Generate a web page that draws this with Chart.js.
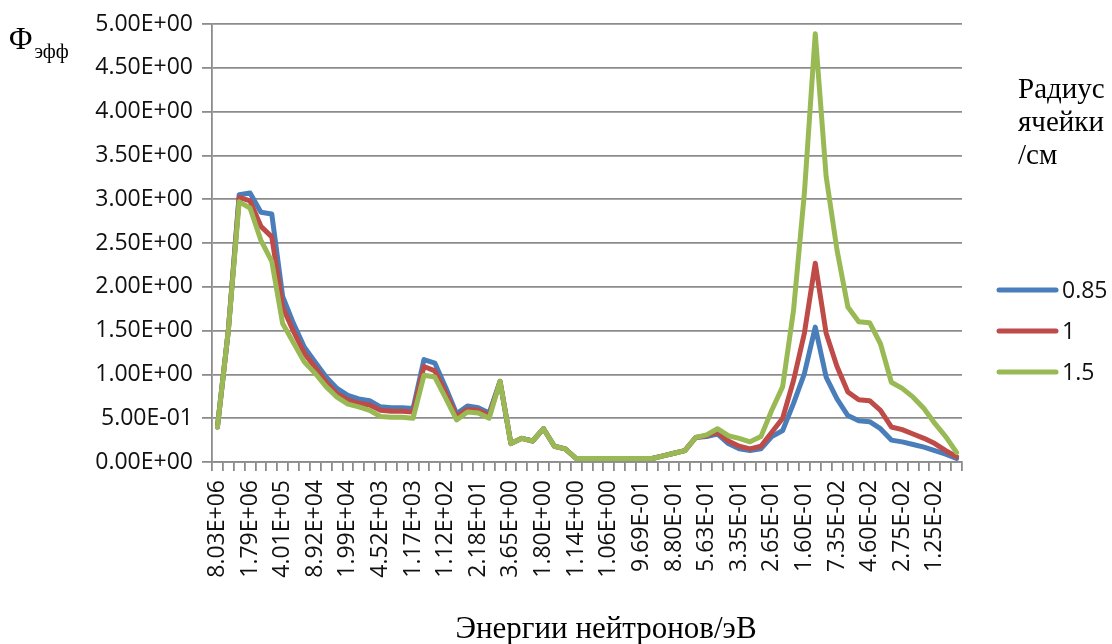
<!DOCTYPE html>
<html lang="ru">
<head>
<meta charset="utf-8">
<title>Φэфф по энергиям нейтронов</title>
<script src="https://cdn.jsdelivr.net/npm/chart.js@4.4.1/dist/chart.umd.min.js"></script>
<style>
  html, body { margin: 0; padding: 0; background: #ffffff; }
  canvas { display: block; }
</style>
</head>
<body>
<canvas id="chart" width="1112" height="644"></canvas>
<script>
// Energy group boundaries shown on the axis (every third group is labelled)
const tickLabels = [
  '8.03E+06', '1.79E+06', '4.01E+05', '8.92E+04', '1.99E+04', '4.52E+03',
  '1.17E+03', '1.12E+02', '2.18E+01', '3.65E+00', '1.80E+00', '1.14E+00',
  '1.06E+00', '9.69E-01', '8.80E-01', '5.63E-01', '3.35E-01', '2.65E-01',
  '1.60E-01', '7.35E-02', '4.60E-02', '2.75E-02', '1.25E-02'
];
const groupCount = 69;
const labelEvery = 3;

// Effective flux per energy group, for three cell radii
const radius085 = [
  0.40, 1.50, 3.05, 3.07, 2.85, 2.83, 1.89, 1.58, 1.31, 1.14,
  0.97, 0.84, 0.76, 0.72, 0.70, 0.63, 0.62, 0.62, 0.61, 1.17,
  1.13, 0.85, 0.55, 0.64, 0.62, 0.56, 0.92, 0.21, 0.27, 0.24,
  0.38, 0.18, 0.15, 0.04, 0.04, 0.04, 0.04, 0.04, 0.04, 0.04,
  0.04, 0.07, 0.10, 0.13, 0.28, 0.29, 0.32, 0.21, 0.15, 0.13,
  0.15, 0.29, 0.36, 0.67, 1.01, 1.54, 0.97, 0.72, 0.53, 0.47,
  0.46, 0.38, 0.25, 0.23, 0.20, 0.17, 0.13, 0.09, 0.04
];
const radius1 = [
  0.40, 1.50, 3.02, 2.98, 2.69, 2.57, 1.77, 1.49, 1.24, 1.08,
  0.91, 0.78, 0.71, 0.67, 0.65, 0.59, 0.58, 0.58, 0.57, 1.09,
  1.04, 0.79, 0.52, 0.60, 0.59, 0.53, 0.92, 0.21, 0.27, 0.24,
  0.38, 0.18, 0.15, 0.04, 0.04, 0.04, 0.04, 0.04, 0.04, 0.04,
  0.04, 0.07, 0.10, 0.13, 0.28, 0.30, 0.34, 0.24, 0.18, 0.15,
  0.18, 0.34, 0.50, 0.93, 1.47, 2.27, 1.47, 1.09, 0.80, 0.71,
  0.70, 0.59, 0.40, 0.37, 0.32, 0.27, 0.21, 0.13, 0.06
];
const radius15 = [
  0.40, 1.50, 2.97, 2.90, 2.53, 2.29, 1.58, 1.36, 1.14, 1.01,
  0.86, 0.74, 0.66, 0.63, 0.59, 0.52, 0.51, 0.51, 0.50, 0.99,
  0.97, 0.73, 0.48, 0.57, 0.56, 0.50, 0.92, 0.21, 0.27, 0.24,
  0.38, 0.18, 0.15, 0.04, 0.04, 0.04, 0.04, 0.04, 0.04, 0.04,
  0.04, 0.07, 0.10, 0.13, 0.28, 0.31, 0.38, 0.30, 0.27, 0.23,
  0.29, 0.59, 0.86, 1.73, 3.07, 4.89, 3.26, 2.42, 1.77, 1.60,
  1.59, 1.35, 0.91, 0.84, 0.74, 0.61, 0.44, 0.29, 0.11
];

const seriesNames = ['0.85', '1', '1.5'];
const seriesColors = ['#4a7ebb', '#be4b48', '#98b954'];
const legendTitle = ['Радиус', 'ячейки', '/см'];
const xTitle = 'Энергии нейтронов/эВ';
const yTitleMain = 'Φ';
const yTitleSub = 'эфф';

// One category per energy group; only every third one carries a label
const categories = Array.from({ length: groupCount }, (_, i) =>
  i % labelEvery === 0 ? (tickLabels[i / labelEvery] || '') : ''
);

function sci(v) {
  if (Math.abs(v) < 1e-12) return '0.00E+00';
  let e = Math.floor(Math.log10(Math.abs(v)) + 1e-9);
  let m = v / Math.pow(10, e);
  if (Math.abs(m) >= 9.995) { m /= 10; e += 1; }
  return m.toFixed(2) + 'E' + (e < 0 ? '-' : '+') + String(Math.abs(e)).padStart(2, '0');
}

const gridColor = '#8c8c8c';
const tickFont = { family: "'Open Sans', sans-serif", size: 23 };
const serif = "'Liberation Serif', 'Times New Roman', serif";

// Axis titles and the legend block drawn around the plot
const decorations = {
  id: 'decorations',
  afterDraw(chart) {
    const ctx = chart.ctx;
    ctx.save();
    ctx.fillStyle = '#000';
    ctx.textBaseline = 'alphabetic';

    ctx.textAlign = 'left';
    ctx.font = '32px ' + serif;
    ctx.fillText(yTitleMain, 9, 49);
    const w = ctx.measureText(yTitleMain).width;
    ctx.font = '20px ' + serif;
    ctx.fillText(yTitleSub, 9 + w + 2, 58);

    ctx.textAlign = 'center';
    ctx.font = '31px ' + serif;
    ctx.fillText(xTitle, 606, 638);

    ctx.textAlign = 'left';
    ctx.font = '29px ' + serif;
    legendTitle.forEach((t, i) => ctx.fillText(t, 1018, 98 + i * 33));

    const rows = [290, 331, 372];
    chart.data.datasets.forEach((ds, i) => {
      ctx.strokeStyle = ds.borderColor;
      ctx.lineWidth = 5;
      ctx.lineCap = 'round';
      ctx.beginPath();
      ctx.moveTo(999, rows[i]);
      ctx.lineTo(1056, rows[i]);
      ctx.stroke();
      ctx.font = "23px 'Open Sans', sans-serif";
      ctx.textBaseline = 'middle';
      ctx.fillStyle = '#111';
      ctx.fillText(ds.label, 1062, rows[i] + 1);
    });
    ctx.restore();
  }
};

const datasets = [radius085, radius1, radius15].map((vals, i) => ({
  label: seriesNames[i],
  data: vals,
  borderColor: seriesColors[i],
  backgroundColor: seriesColors[i],
  borderWidth: 5,
  borderJoinStyle: 'round',
  borderCapStyle: 'round',
  pointRadius: 0,
  pointHoverRadius: 0,
  tension: 0,
  fill: false,
  order: 3 - i
}));

new Chart(document.getElementById('chart'), {
  type: 'line',
  data: { labels: categories, datasets },
  options: {
    responsive: false,
    devicePixelRatio: 1,
    animation: false,
    layout: { padding: { top: 24, right: 150, bottom: 0, left: 0 } },
    plugins: {
      legend: { display: false },
      tooltip: { enabled: false },
      title: { display: false }
    },
    scales: {
      x: {
        type: 'category',
        offset: true,
        grid: {
          offset: true,
          drawOnChartArea: false,
          drawTicks: true,
          tickLength: 9,
          color: gridColor,
          lineWidth: 1.8
        },
        border: { color: gridColor, width: 1.8 },
        ticks: {
          autoSkip: false,
          maxRotation: 90,
          minRotation: 90,
          padding: 9,
          color: '#111',
          font: tickFont
        },
        afterFit(scale) { scale.height = 182; }
      },
      y: {
        min: 0,
        max: 5,
        grid: {
          color: gridColor,
          lineWidth: 1.8,
          tickLength: 10
        },
        border: { color: gridColor, width: 1.8 },
        ticks: {
          stepSize: 0.5,
          padding: 9,
          color: '#111',
          font: tickFont,
          callback: (v) => sci(v)
        },
        afterFit(scale) { scale.width = 212; }
      }
    }
  },
  plugins: [decorations]
});
</script>
</body>
</html>
